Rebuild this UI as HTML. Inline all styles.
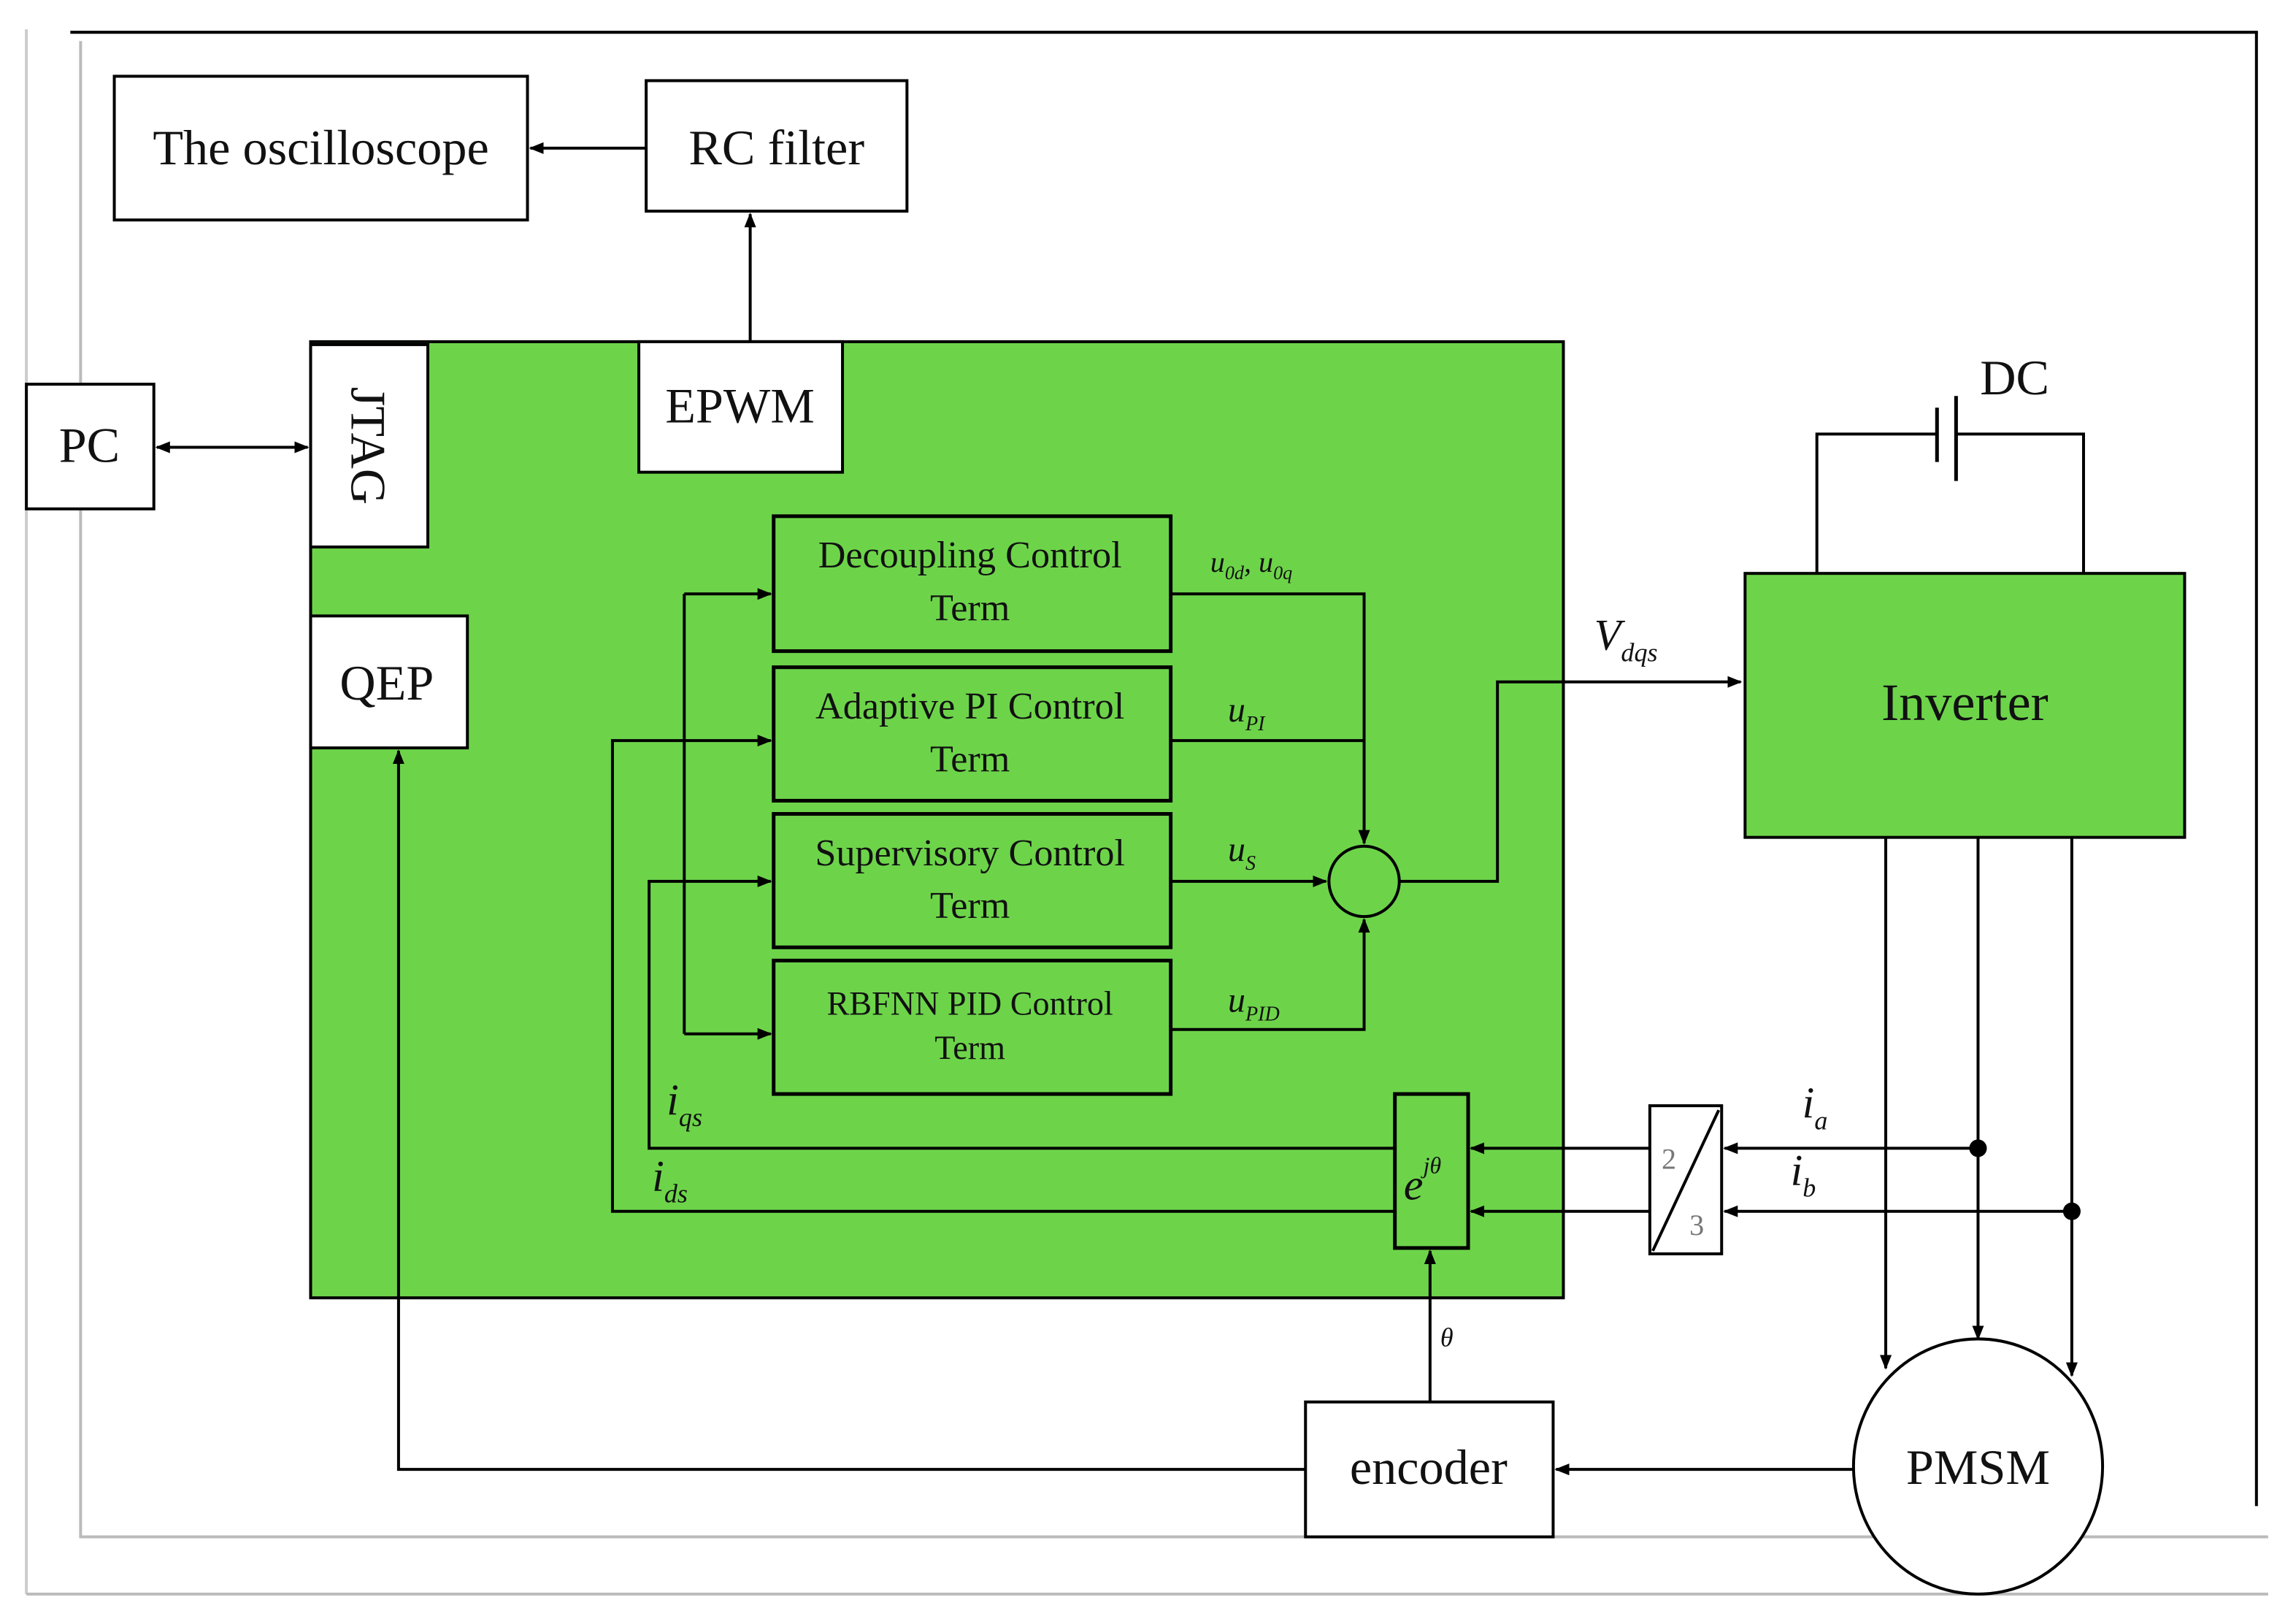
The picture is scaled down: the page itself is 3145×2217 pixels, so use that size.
<!DOCTYPE html>
<html><head><meta charset="utf-8"><style>
html,body{margin:0;padding:0;background:#fff;}
svg{display:block;}
text{font-family:"Liberation Serif",serif;fill:#111;}
</style></head><body>
<svg width="3145" height="2217" viewBox="0 0 1567 1104" preserveAspectRatio="none" xmlns="http://www.w3.org/2000/svg">
<defs>
<marker id="a" markerWidth="10" markerHeight="8" refX="9" refY="4" orient="auto" markerUnits="userSpaceOnUse"><path d="M0,0 L10,4 L0,8 z" fill="#000"/></marker>
<marker id="as" markerWidth="10" markerHeight="8" refX="1" refY="4" orient="auto" markerUnits="userSpaceOnUse"><path d="M10,0 L0,4 L10,8 z" fill="#000"/></marker>
</defs>
<line x1="48" y1="22" x2="1541" y2="22" stroke="#000" stroke-width="2"/>
<line x1="1540" y1="22" x2="1540" y2="1027" stroke="#000" stroke-width="2"/>
<line x1="55" y1="28" x2="55" y2="1049" stroke="#bbb" stroke-width="2"/>
<line x1="55" y1="1048" x2="1548" y2="1048" stroke="#bbb" stroke-width="2"/>
<line x1="18" y1="20" x2="18" y2="1087" stroke="#ccc" stroke-width="2"/>
<line x1="18" y1="1087" x2="1548" y2="1087" stroke="#bbb" stroke-width="2"/>
<rect x="78" y="52" width="282" height="98" fill="#fff" stroke="#000" stroke-width="2"/>
<text x="219" y="112" font-size="34" text-anchor="middle">The oscilloscope</text>
<rect x="441" y="55" width="178" height="89" fill="#fff" stroke="#000" stroke-width="2"/>
<text x="530" y="112" font-size="34" text-anchor="middle">RC filter</text>
<line x1="441" y1="101" x2="362" y2="101" stroke="#000" stroke-width="2" marker-end="url(#a)"/>
<line x1="512" y1="233" x2="512" y2="146" stroke="#000" stroke-width="2" marker-end="url(#a)"/>
<rect x="212" y="233" width="855" height="652" fill="#6dd44a" stroke="#000" stroke-width="2"/>
<rect x="212" y="235" width="80" height="138" fill="#fff" stroke="#000" stroke-width="2"/>
<text x="0" y="0" font-size="34" text-anchor="middle" transform="translate(240,304) rotate(90)">JTAG</text>
<rect x="436" y="233" width="139" height="89" fill="#fff" stroke="#000" stroke-width="2"/>
<text x="505" y="288" font-size="34" text-anchor="middle">EPWM</text>
<rect x="18" y="262" width="87" height="85" fill="#fff" stroke="#000" stroke-width="2"/>
<text x="61" y="315" font-size="34" text-anchor="middle">PC</text>
<line x1="107" y1="305" x2="210" y2="305" stroke="#000" stroke-width="2" marker-start="url(#as)" marker-end="url(#a)"/>
<rect x="212" y="420" width="107" height="90" fill="#fff" stroke="#000" stroke-width="2"/>
<text x="264" y="477" font-size="34" text-anchor="middle">QEP</text>
<g stroke="#000" stroke-width="2.5" fill="none">
<rect x="528" y="352" width="271" height="92"/>
<rect x="528" y="455" width="271" height="91"/>
<rect x="528" y="555" width="271" height="91"/>
<rect x="528" y="655" width="271" height="91"/>
</g>
<g font-size="26" text-anchor="middle">
<text x="662" y="387">Decoupling Control</text><text x="662" y="423">Term</text>
<text x="662" y="490">Adaptive PI Control</text><text x="662" y="526">Term</text>
<text x="662" y="590">Supervisory Control</text><text x="662" y="626">Term</text>
<text x="662" y="692" font-size="23">RBFNN PID Control</text><text x="662" y="722" font-size="23">Term</text>
</g>
<circle cx="931" cy="601" r="24" fill="none" stroke="#000" stroke-width="2"/>
<g stroke="#000" stroke-width="2" fill="none">
<polyline points="799,405 931,405 931,575" marker-end="url(#a)"/>
<line x1="799" y1="505" x2="931" y2="505"/>
<line x1="799" y1="601" x2="905" y2="601" marker-end="url(#a)"/>
<polyline points="799,702 931,702 931,627" marker-end="url(#a)"/>
<polyline points="955,601 1022,601 1022,465 1188,465" marker-end="url(#a)"/>
<line x1="467" y1="405" x2="467" y2="705"/>
<line x1="467" y1="405" x2="526" y2="405" marker-end="url(#a)"/>
<line x1="467" y1="705" x2="526" y2="705" marker-end="url(#a)"/>
<polyline points="952,783 443,783 443,601 526,601" marker-end="url(#a)"/>
<polyline points="952,826 418,826 418,505 526,505" marker-end="url(#a)"/>
</g>
<g font-style="italic">
<text x="826" y="390" font-size="20">u<tspan font-size="13" dy="5">0d</tspan><tspan dy="-5">, </tspan>u<tspan font-size="13" dy="5">0q</tspan></text>
<text x="838" y="492" font-size="24">u<tspan font-size="14" dy="6">PI</tspan></text>
<text x="838" y="587" font-size="24">u<tspan font-size="14" dy="6">S</tspan></text>
<text x="838" y="690" font-size="24">u<tspan font-size="14" dy="6">PID</tspan></text>
<text x="1088" y="443" font-size="30">V<tspan font-size="18" dy="8">dqs</tspan></text>
<text x="455" y="760" font-size="30">i<tspan font-size="18" dy="8">qs</tspan></text>
<text x="445" y="812" font-size="30">i<tspan font-size="18" dy="8">ds</tspan></text>
<text x="1230" y="762" font-size="30">i<tspan font-size="18" dy="8">a</tspan></text>
<text x="1222" y="808" font-size="30">i<tspan font-size="18" dy="8">b</tspan></text>
<text x="983" y="918" font-size="18">θ</text>
</g>
<rect x="952" y="746" width="50" height="105" fill="#6dd44a" stroke="#000" stroke-width="2.5"/>
<text x="958" y="818" font-size="30" font-style="italic">e<tspan font-size="16" dy="-18">jθ</tspan></text>
<g stroke="#000" stroke-width="2" fill="none">
<line x1="1126" y1="783" x2="1004" y2="783" marker-end="url(#a)"/>
<line x1="1126" y1="826" x2="1004" y2="826" marker-end="url(#a)"/>
<line x1="1350" y1="783" x2="1177" y2="783" marker-end="url(#a)"/>
<line x1="1414" y1="826" x2="1177" y2="826" marker-end="url(#a)"/>
<line x1="976" y1="956" x2="976" y2="853" marker-end="url(#a)"/>
<line x1="1265" y1="1002" x2="1062" y2="1002" marker-end="url(#a)"/>
<polyline points="891,1002 272,1002 272,512" marker-end="url(#a)"/>
<line x1="1287" y1="571" x2="1287" y2="933" marker-end="url(#a)"/>
<line x1="1350" y1="571" x2="1350" y2="913" marker-end="url(#a)"/>
<line x1="1414" y1="571" x2="1414" y2="938" marker-end="url(#a)"/>
<polyline points="1240,391 1240,296 1322,296"/>
<polyline points="1335,296 1422,296 1422,391"/>
</g>
<line x1="1322" y1="278" x2="1322" y2="315" stroke="#000" stroke-width="2.5"/>
<line x1="1335" y1="270" x2="1335" y2="328" stroke="#000" stroke-width="2.5"/>
<text x="1375" y="269" font-size="34" text-anchor="middle">DC</text>
<circle cx="1350" cy="783" r="6" fill="#000"/>
<circle cx="1414" cy="826" r="6" fill="#000"/>
<rect x="1126" y="754" width="49" height="101" fill="#fff" stroke="#000" stroke-width="2"/>
<line x1="1128" y1="853" x2="1173" y2="757" stroke="#000" stroke-width="2"/>
<text x="1139" y="797" font-size="20" style="fill:#777" text-anchor="middle">2</text>
<text x="1158" y="842" font-size="20" style="fill:#777" text-anchor="middle">3</text>
<rect x="1191" y="391" width="300" height="180" fill="#6dd44a" stroke="#000" stroke-width="2"/>
<text x="1341" y="491" font-size="36" text-anchor="middle">Inverter</text>
<rect x="891" y="956" width="169" height="92" fill="#fff" stroke="#000" stroke-width="2"/>
<text x="975" y="1012" font-size="34" text-anchor="middle">encoder</text>
<ellipse cx="1350" cy="1000" rx="85" ry="87" fill="#fff" stroke="#000" stroke-width="2"/>
<text x="1350" y="1012" font-size="34" text-anchor="middle">PMSM</text>
</svg>
</body></html>
